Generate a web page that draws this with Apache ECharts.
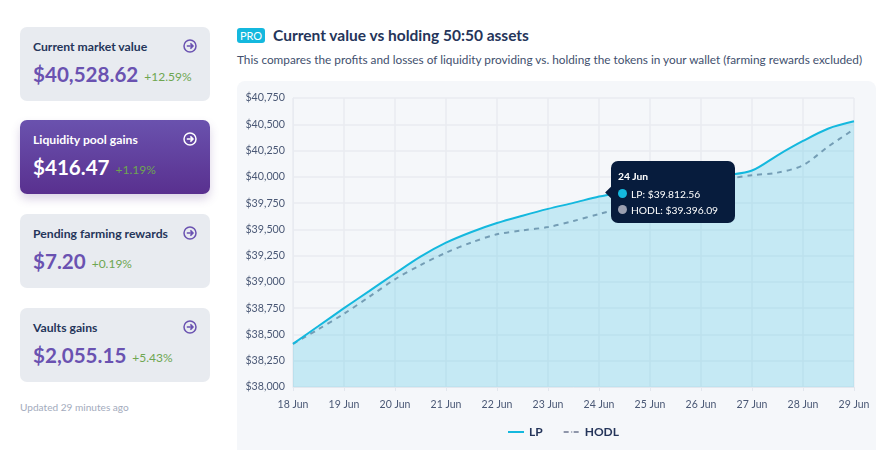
<!DOCTYPE html>
<html><head><meta charset="utf-8">
<script src="https://cdn.jsdelivr.net/npm/echarts@6/dist/echarts.min.js"></script>
<style>
html,body{margin:0;padding:0;background:#fff;width:895px;height:474px;overflow:hidden;font-family:Lato,"Noto Sans",sans-serif;color:#25355a}
.card{position:absolute;left:20px;width:190px;height:74px;border-radius:7px;background:#e8ebf0;box-sizing:border-box}
.card .t{position:absolute;left:13px;top:12px;font-size:12.2px;font-weight:700;color:#25355a;white-space:nowrap}
.card .v{position:absolute;left:13px;top:33px;font-size:20.6px;line-height:28px;font-weight:700;color:#6a52b1;white-space:nowrap}
.card .p{font-size:12px;font-weight:400;color:#6ea650;margin-left:6px;position:relative;top:-1px}
.card svg{position:absolute;left:163px;top:12px}
.card.on{background:linear-gradient(#6a52ae,#59308f);box-shadow:0 5px 10px rgba(90,60,140,.22)}
.card.on .t,.card.on .v{color:#fff}
.up{position:absolute;left:20px;top:401px;font-size:10.1px;color:#a3abbd}
.pro{position:absolute;left:237px;top:28px;width:28px;height:15px;border-radius:3px;background:#14b8de;color:#fff;font-size:11px;line-height:15px;text-align:center}
.h{position:absolute;left:273px;top:26px;font-size:15.5px;font-weight:700;color:#25355a;white-space:nowrap}
.s{position:absolute;left:237px;top:52px;font-size:11.8px;color:#42506e;white-space:nowrap}
.panel{position:absolute;left:237px;top:81px;width:639px;height:369px;background:#f5f7fa;border-radius:8px 8px 0 0}
#c{position:absolute;left:0;top:0;width:895px;height:474px}
</style></head><body>
<div id="cards"></div>
<div class="up">Updated 29 minutes ago</div>
<div class="pro">PRO</div>
<div class="h">Current value vs holding 50:50 assets</div>
<div class="s">This compares the profits and losses of liquidity providing vs. holding the tokens in your wallet (farming rewards excluded)</div>
<div class="panel"></div>
<div id="c"></div>
<script>
const cardTitles=["Current market value","Liquidity pool gains","Pending farming rewards","Vaults gains"];
const cardValues=["$40,528.62","$416.47","$7.20","$2,055.15"];
const cardPercents=["+12.59%","+1.19%","+0.19%","+5.43%"];
const cardTops=[27,120,214,308];
const days=["18 Jun","","19 Jun","","20 Jun","","21 Jun","","22 Jun","","23 Jun","","24 Jun","","25 Jun","","26 Jun","","27 Jun","","28 Jun","","29 Jun"];
const lp=[38410,38580,38750,38915,39080,39240,39373,39475,39560,39630,39695,39752,39812,39860,39905,39945,39980,40015,40060,40205,40341,40460,40528];
const hodl=[38410,38550,38697,38860,39025,39160,39278,39375,39453,39490,39522,39580,39646,39710,39780,39840,39900,39975,40015,40040,40110,40290,40452];
const tipDate="24 Jun";
const tipLP="$39.812.56";
const tipHODL="$39.396.09";
const yTicks={min:38000,max:40750,step:250};

document.getElementById('cards').innerHTML=cardTitles.map((t,i)=>{
 const col=i==1?'#fff':'#6a52b1';
 return `<div class="card${i==1?' on':''}" style="top:${cardTops[i]}px"><div class="t">${t}</div><div class="v">${cardValues[i]}<span class="p">${cardPercents[i]}</span></div>
 <svg width="14" height="14" viewBox="0 0 14 14" fill="none" stroke="${col}"><circle cx="7" cy="7" r="6" stroke-width="1.5"/><path d="M3.8 7H10M7.4 4.4L10 7L7.4 9.6" stroke-width="1.5"/></svg></div>`;
}).join('');

const chart=echarts.init(document.getElementById('c'));
const dot=c=>`<span style="display:inline-block;width:9px;height:9px;border-radius:50%;background:${c};margin-right:4px"></span>`;
chart.setOption({
 animation:false,
 textStyle:{fontFamily:'Lato,"Noto Sans",sans-serif'},
 grid:{left:293,right:41,top:98,bottom:87,containLabel:false},
 tooltip:{trigger:'axis',triggerOn:'none',alwaysShowContent:true,position:[611,161],
  axisPointer:{type:'none'},backgroundColor:'#071c3d',borderWidth:0,padding:[8,12,8,7],
  extraCssText:'border-radius:7px;box-shadow:none;width:124px;height:62px;box-sizing:border-box;overflow:visible',
  textStyle:{color:'#fff',fontSize:10.3},
  formatter:()=>`<div style="position:absolute;left:-4px;top:27px;width:9px;height:9px;background:#071c3d;transform:rotate(45deg)"></div>
  <div style="line-height:14px;font-weight:700;margin-bottom:3px">${tipDate}</div>
  <div style="line-height:16px">${dot('#14b8de')}LP: ${tipLP}</div>
  <div style="line-height:16px">${dot('#9a9fb0')}HODL: ${tipHODL}</div>`},
 legend:{top:426,left:507,itemWidth:16,itemHeight:2,itemGap:20,padding:0,
  textStyle:{color:'#25355a',fontSize:12,fontWeight:700},
  data:['LP','HODL']},
 xAxis:{type:'category',boundaryGap:false,data:days,
  axisLine:{lineStyle:{color:'#e3e7ee'}},axisTick:{show:true,interval:1,length:4,lineStyle:{color:'#e3e7ee'}},
  axisLabel:{interval:1,color:'#4a5875',fontSize:10.5,margin:12,hideOverlap:false,showMinLabel:true,showMaxLabel:true},
  splitLine:{show:true,interval:1,lineStyle:{color:'#e8ebf1',width:1.5}}},
 yAxis:{type:'value',min:yTicks.min,max:yTicks.max,interval:yTicks.step,
  axisLine:{show:true,lineStyle:{color:'#e8ebf1'}},axisTick:{show:false},
  axisLabel:{color:'#4a5875',fontSize:10.7,margin:8,formatter:v=>'$'+v.toLocaleString('en-US')},
  splitLine:{lineStyle:{color:'#e8ebf1',width:1.5}}},
 series:[
  {name:'LP',type:'line',data:lp,smooth:0.3,showSymbol:false,symbol:'none',z:3,
   lineStyle:{color:'#14b8de',width:2},itemStyle:{color:'#14b8de'},
   areaStyle:{color:'#14b8de',opacity:0.21},emphasis:{disabled:true}},
  {name:'HODL',type:'line',data:hodl,smooth:0.3,showSymbol:false,symbol:'none',z:2,
   lineStyle:{color:'#8f96aa',width:2,type:[5,5]},itemStyle:{color:'#8f96aa'},emphasis:{disabled:true}}
 ]
});
chart.dispatchAction({type:'showTip',seriesIndex:0,dataIndex:12});
</script>
</body></html>
